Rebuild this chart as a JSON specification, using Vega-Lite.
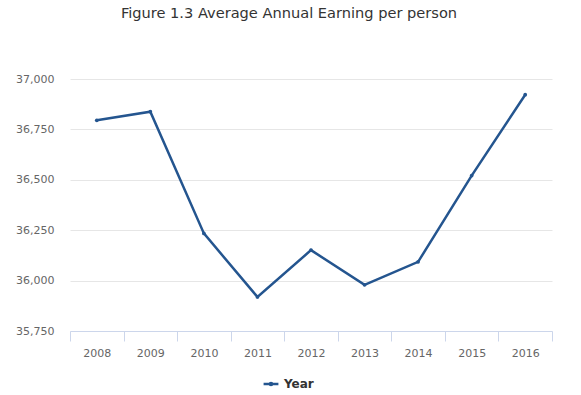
{
  "$schema": "https://vega.github.io/schema/vega-lite/v6.json",
  "width": 482,
  "height": 252,
  "autosize": "none",
  "padding": {"left": 70, "top": 79, "right": 29, "bottom": 64},
  "background": "white",
  "title": {
    "text": "Figure 1.3 Average Annual Earning per person",
    "font": "DejaVu Sans",
    "fontSize": 14.6,
    "fontWeight": "normal",
    "color": "#333333",
    "anchor": "middle",
    "dx": -22,
    "offset": 52
  },
  "data": {
    "values": [
      {"year": "2008", "value": 36795, "series": "Year"},
      {"year": "2009", "value": 36838, "series": "Year"},
      {"year": "2010", "value": 36234, "series": "Year"},
      {"year": "2011", "value": 35919, "series": "Year"},
      {"year": "2012", "value": 36151, "series": "Year"},
      {"year": "2013", "value": 35979, "series": "Year"},
      {"year": "2014", "value": 36093, "series": "Year"},
      {"year": "2015", "value": 36521, "series": "Year"},
      {"year": "2016", "value": 36922, "series": "Year"}
    ]
  },
  "mark": {"type": "line", "strokeWidth": 2.5, "point": {"size": 14, "filled": true}},
  "encoding": {
    "x": {
      "field": "year",
      "type": "ordinal",
      "scale": {"paddingInner": 0, "paddingOuter": 0, "padding": 0, "type": "band"},
      "axis": {
        "title": null,
        "labelAngle": 0,
        "labelFont": "DejaVu Sans",
        "labelFontSize": 11,
        "labelColor": "#666666",
        "labelPadding": 6,
        "domainColor": "#ccd6eb",
        "tickColor": "#ccd6eb",
        "tickSize": 10,
        "tickBand": "extent",
        "grid": false
      }
    },
    "y": {
      "field": "value",
      "type": "quantitative",
      "scale": {"domain": [35750, 37000], "nice": false, "zero": false},
      "axis": {
        "title": null,
        "values": [35750, 36000, 36250, 36500, 36750, 37000],
        "format": ",d",
        "labelFont": "DejaVu Sans",
        "labelFontSize": 11,
        "labelColor": "#666666",
        "labelPadding": 16,
        "domain": false,
        "ticks": false,
        "gridColor": "#e6e6e6",
        "gridWidth": 1
      }
    },
    "color": {
      "field": "series",
      "type": "nominal",
      "scale": {"range": ["#24558f"]},
      "legend": {
        "title": null,
        "orient": "none",
        "legendX": 192,
        "legendY": 296,
        "symbolType": "M-1,0H1M-0.15,0a0.15,0.15 0 1,0 0.3,0a0.15,0.15 0 1,0 -0.3,0",
        "symbolSize": 220,
        "symbolStrokeWidth": 2.5,
        "labelFont": "DejaVu Sans",
        "labelFontSize": 12,
        "labelFontWeight": "bold",
        "labelColor": "#333333"
      }
    }
  },
  "config": {"view": {"stroke": null}}
}
